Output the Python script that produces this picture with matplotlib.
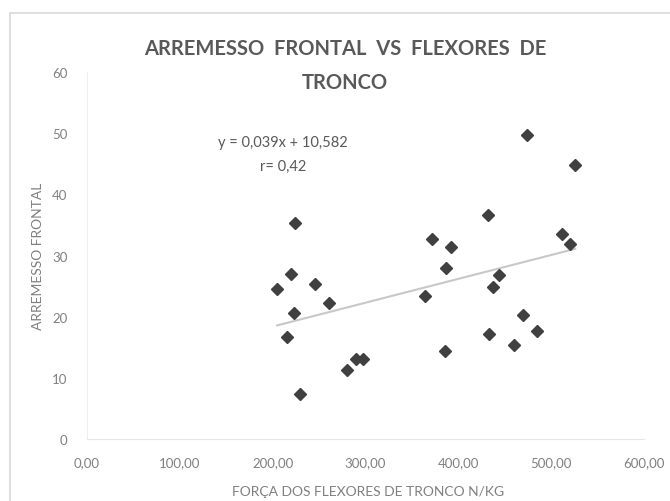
import matplotlib
matplotlib.use("Agg")
import matplotlib.pyplot as plt
from matplotlib.patches import Rectangle

# força dos flexores de tronco (N/kg) vs arremesso frontal
forca = [224.1, 219.8, 204.7, 245.7, 260.8, 223.1, 215.5, 229.5, 289.9, 297.4,
         280.2, 364.2, 371.8, 392.2, 386.9, 385.8, 432.1, 444.0, 437.5, 433.2,
         460.1, 469.8, 484.9, 474.1, 525.9, 511.9, 520.5]
arremesso = [35.3, 27.0, 24.5, 25.3, 22.2, 20.6, 16.7, 7.4, 13.1, 13.1,
             11.3, 23.4, 32.7, 31.4, 27.9, 14.4, 36.6, 26.8, 24.8, 17.2,
             15.4, 20.3, 17.6, 49.7, 44.8, 33.5, 31.9]

slope = 0.039
intercept = 10.582
eq_text = "y = 0,039x + 10,582"
r_text = "r= 0,42"

xticks = [0, 100, 200, 300, 400, 500, 600]
xticklabels = ["0,00", "100,00", "200,00", "300,00", "400,00", "500,00", "600,00"]
yticks = [0, 10, 20, 30, 40, 50, 60]

plt.rcParams['font.family'] = ['Lato', 'DejaVu Sans']

fig = plt.figure(figsize=(6.7, 5.02), dpi=100)
ax = fig.add_axes([87 / 670, 1 - 440 / 502, (644 - 87) / 670, (440 - 73) / 502])

# chart border (only top/left visible in the crop)
fig.patches.append(Rectangle((10 / 670, -0.2), 1.2, 1.2 - 15 / 502 + 0.001,
                             transform=fig.transFigure, fill=False,
                             edgecolor='#d9d9d9', lw=1.2))

ax.plot(forca, arremesso, linestyle='none', marker='D', markersize=6,
        color='#404040', zorder=3)

x0, x1 = min(forca), max(forca)
ax.plot([x0, x1], [slope * x0 + intercept, slope * x1 + intercept],
        color='#c8c8c8', lw=1.5, zorder=2)

ax.text(211, 48.5, eq_text, ha='center', va='center', fontsize=10.5, color='#595959')
ax.text(211, 44.6, r_text, ha='center', va='center', fontsize=10.5, color='#595959')

ax.set_xlim(0, 600)
ax.set_ylim(0, 60)
ax.set_xticks(xticks)
ax.set_xticklabels(xticklabels)
ax.set_yticks(yticks)
ax.tick_params(length=0, colors='#808080', labelsize=9.5, pad=12)
ax.tick_params(axis='y', pad=14)

for s in ['top', 'right']:
    ax.spines[s].set_visible(False)
ax.spines['bottom'].set_color('#e6e6e6')
ax.spines['left'].set_color('#f0f0f0')

ax.set_xlabel("FORÇA DOS FLEXORES DE TRONCO N/KG", fontsize=10, color='#808080')
ax.xaxis.set_label_coords(0.504, -0.125)
ax.set_ylabel("ARREMESSO FRONTAL", fontsize=10, color='#808080')
ax.yaxis.set_label_coords(-0.078, 0.5)

fig.text(345 / 670, 1 - 49 / 502, "ARREMESSO  FRONTAL  VS  FLEXORES  DE",
         ha='center', va='center', fontsize=14.5, fontweight='bold', color='#595959')
fig.text(345 / 670, 1 - 83 / 502, "TRONCO",
         ha='center', va='center', fontsize=14.5, fontweight='bold', color='#595959')

fig.savefig("out.png", dpi=100)
